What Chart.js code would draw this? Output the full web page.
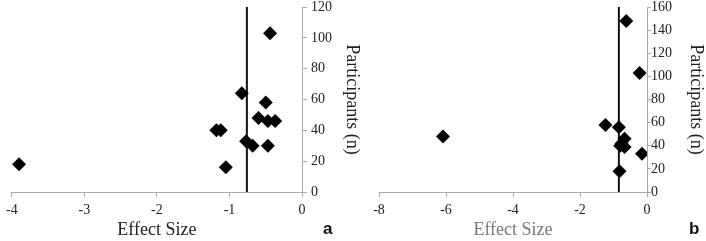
<!DOCTYPE html>
<html>
<head>
<meta charset="utf-8">
<script src="https://cdn.jsdelivr.net/npm/chart.js@4"></script>
<style>
  body { margin: 0; background: #fff; }
  #wrap { position: relative; width: 706px; height: 241px; overflow: hidden; }
  .panel { position: absolute; }
  #pa { left: 0; top: -4px; width: 364px; height: 245px; }
  #pb { left: 362px; top: 0; width: 344px; height: 241px; }
  .tag { position: absolute; top: 219px; font: bold 17px "Liberation Sans", Arial, sans-serif; color: #111; }
</style>
</head>
<body>
<div id="wrap">
  <div class="panel" id="pa"><canvas id="chartA"></canvas></div>
  <div class="panel" id="pb"><canvas id="chartB"></canvas></div>
  <span class="tag" style="left:323px">a</span>
  <span class="tag" style="left:689px">b</span>
</div>
<script>
// Panel a data
var effectA = [-3.90, -1.05, -1.18, -1.12, -0.83, -0.77, -0.68, -0.60, -0.50, -0.47, -0.47, -0.37, -0.44];
var participantsA = [18, 16, 40, 40, 64, 33, 30, 48, 58, 46, 30, 46, 103];
var meanA = -0.76;

// Panel b data
var effectB = [-6.09, -1.24, -0.84, -0.67, -0.76, -0.67, -0.80, -0.15, -0.82, -0.22, -0.62];
var participantsB = [48, 58, 56, 46, 42, 39, 40, 33, 18, 103, 148];
var meanB = -0.84;

var serif = 'Liberation Serif';

function makeChart(id, xs, ys, mean, xMin, xStep, yMax, opt) {
    var pts = xs.map(function(x, i) { return { x: x, y: ys[i] }; });
    var ctx = document.getElementById(id).getContext('2d');
    return new Chart(ctx, {
        type: 'scatter',
        data: {
            datasets: [{
                data: pts,
                pointStyle: 'rectRot',
                pointRadius: 7,
                backgroundColor: '#000',
                borderColor: '#000',
                borderWidth: 0,
                order: 0
            }, {
                type: 'line',
                data: [{ x: mean, y: 0 }, { x: mean, y: yMax }],
                borderColor: '#111',
                borderWidth: 2,
                pointRadius: 0,
                order: 1
            }]
        },
        options: {
            responsive: true,
            maintainAspectRatio: false,
            animation: false,
            layout: { padding: { left: opt.left, right: opt.right, top: 0, bottom: 0 } },
            plugins: { legend: { display: false }, tooltip: { enabled: false } },
            scales: {
                x: {
                    type: 'linear',
                    min: xMin,
                    max: 0,
                    ticks: { stepSize: xStep, color: '#222', font: { family: serif, size: 14, lineHeight: 1 }, padding: 6 },
                    grid: { drawOnChartArea: false, drawTicks: true, tickLength: 5, color: '#aaa' },
                    border: { color: '#aaa' },
                    title: { display: true, text: 'Effect Size', color: opt.xTitleColor, font: { family: serif, size: 18, lineHeight: 1 }, padding: { top: -2, bottom: 2 } }
                },
                y: {
                    position: 'right',
                    min: 0,
                    max: yMax,
                    ticks: { stepSize: 20, color: '#222', font: { family: serif, size: 14, lineHeight: 1 }, padding: opt.yTickPad },
                    grid: { drawOnChartArea: false, drawTicks: true, tickLength: opt.yTickLen, color: '#aaa' },
                    border: { color: '#aaa' },
                    title: { display: true, text: 'Participants (n)', color: '#222', font: { family: serif, size: 18, lineHeight: 1 }, padding: { top: 1, bottom: opt.yTitleGap } }
                }
            }
        }
    });
}

function build() {
    makeChart('chartA', effectA, participantsA, meanA, -4, 1, 120,
        { left: 8, right: 2, yTickPad: 4, yTickLen: 5, yTitleGap: 7, xTitleColor: '#222' });
    makeChart('chartB', effectB, participantsB, meanB, -8, 2, 160,
        { left: 17, right: 0, yTickPad: 0, yTickLen: 4, yTitleGap: 15, xTitleColor: '#777' });
}

if (document.fonts && document.fonts.load) {
    Promise.all([
        document.fonts.load('14px "Liberation Serif"'),
        document.fonts.load('18px "Liberation Serif"')
    ]).then(build, build);
} else {
    build();
}
</script>
</body>
</html>
